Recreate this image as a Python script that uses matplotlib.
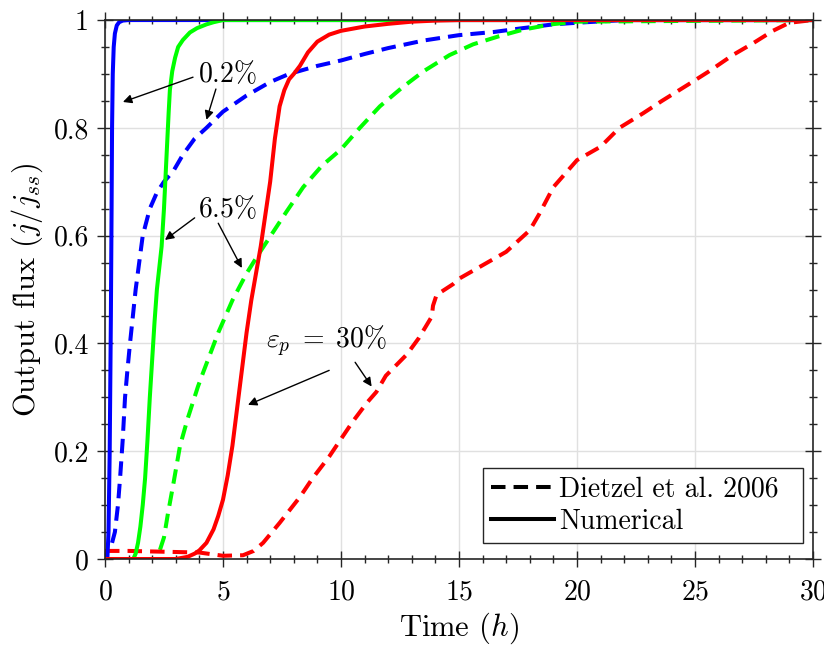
import matplotlib
matplotlib.use('Agg')
import matplotlib.pyplot as plt
from matplotlib.ticker import MultipleLocator

plt.rcParams['font.family'] = 'cmr10'
plt.rcParams['mathtext.fontset'] = 'cm'
plt.rcParams['axes.formatter.use_mathtext'] = True

# numerical curves (solid)
t_num_02 = [0, 0.1, 0.15, 0.2, 0.25, 0.28, 0.3, 0.33, 0.37, 0.42, 0.5, 0.6, 0.75, 1.0, 30]
y_num_02 = [0, 0.0, 0.05, 0.2, 0.45, 0.65, 0.8, 0.9, 0.95, 0.975, 0.99, 0.996, 0.999, 1.0, 1.0]

t_num_65 = [0, 1.2, 1.3, 1.4, 1.5, 1.6, 1.7, 1.8, 1.9, 2.0, 2.1, 2.2, 2.3, 2.4, 2.5, 2.6, 2.7, 2.75,
            2.85, 2.97, 3.1, 3.3, 3.6, 3.9, 4.3, 4.6, 5.0, 30]
y_num_65 = [0, 0, 0.01, 0.03, 0.06, 0.1, 0.15, 0.22, 0.3, 0.37, 0.44, 0.5, 0.54, 0.58, 0.65, 0.74, 0.83, 0.87,
            0.905, 0.93, 0.95, 0.963, 0.977, 0.985, 0.992, 0.996, 1.0, 1.0]

t_num_30 = [0, 3.0, 3.5, 3.8, 4.0, 4.3, 4.6, 4.8, 5.0, 5.2, 5.4, 5.6, 5.8, 6.0, 6.2, 6.4, 6.6, 6.8, 7.0,
            7.2, 7.4, 7.6, 7.8, 8.0, 8.26, 8.6, 9.0, 9.5, 10.0, 10.5, 11.0, 12.0, 13.0, 14.0, 15.0, 30]
y_num_30 = [0, 0, 0.004, 0.01, 0.016, 0.03, 0.055, 0.08, 0.11, 0.155, 0.21, 0.28, 0.35, 0.42, 0.48, 0.53, 0.58, 0.64, 0.70,
            0.78, 0.84, 0.87, 0.89, 0.9, 0.915, 0.94, 0.96, 0.973, 0.98, 0.984, 0.988, 0.993, 0.997, 0.999, 1.0, 1.0]

# Dietzel et al. 2006 (dashed)
t_dz_02 = [0.3, 0.42, 0.55, 0.64, 0.75, 0.85, 0.95, 1.06, 1.3, 1.6, 1.9, 2.2, 2.5, 2.9, 3.3, 3.8, 4.3, 5.0,
           6.0, 7.0, 7.8, 9.0, 10.0, 11.0, 12.0, 13.5, 15.0, 16.5, 17.7, 19.0, 20.0, 22.0, 30]
y_dz_02 = [0.03, 0.05, 0.1, 0.15, 0.22, 0.3, 0.35, 0.4, 0.5, 0.6, 0.65, 0.68, 0.7, 0.72, 0.75, 0.78, 0.8, 0.83,
           0.86, 0.885, 0.9, 0.915, 0.925, 0.937, 0.948, 0.962, 0.972, 0.978, 0.985, 0.992, 0.995, 1.0, 1.0]

t_dz_65 = [2.33, 2.5, 2.67, 2.9, 3.18, 3.5, 3.94, 4.15, 4.8, 5.4, 6.0, 6.5, 7.1, 7.7, 8.4, 9.2, 10.0, 10.8,
           11.65, 12.6, 13.5, 14.6, 15.6, 16.7, 17.7, 18.9, 20.0, 30]
y_dz_65 = [0.017, 0.04, 0.085, 0.14, 0.21, 0.26, 0.32, 0.345, 0.42, 0.48, 0.53, 0.565, 0.605, 0.645, 0.69, 0.73, 0.76, 0.8,
           0.84, 0.875, 0.905, 0.935, 0.955, 0.97, 0.982, 0.992, 0.997, 1.0]

t_dz_30 = [0, 1.0, 2.0, 3.0, 4.0, 5.0, 5.85, 6.3, 6.7, 7.4, 8.26, 8.8, 9.5, 9.96, 10.5, 11.1, 11.5, 11.9, 12.8,
           13.3, 13.85, 13.9, 14.05, 14.75, 15.0, 16.0, 17.0, 18.0, 18.4, 19.0, 20.0, 21.0, 21.8, 22.8, 23.6,
           24.7, 25.6, 26.6, 27.5, 28.3, 29.0, 30.0]
y_dz_30 = [0.015, 0.015, 0.014, 0.013, 0.012, 0.006, 0.007, 0.015, 0.03, 0.067, 0.115, 0.15, 0.19, 0.22, 0.255, 0.29, 0.31, 0.34, 0.38,
           0.41, 0.45, 0.47, 0.49, 0.51, 0.52, 0.545, 0.57, 0.61, 0.64, 0.69, 0.74, 0.765, 0.80, 0.827, 0.85,
           0.88, 0.905, 0.935, 0.958, 0.98, 0.995, 1.0]

y_tick_vals = [0, 0.2, 0.4, 0.6, 0.8, 1]
y_tick_labels = ['0', '0.2', '0.4', '0.6', '0.8', '1']
x_tick_vals = [0, 5, 10, 15, 20, 25, 30]

blue = '#0000ff'
green = '#00ff00'
red = '#ff0000'
lw = 2.9
dash = (3.6, 2.0)

fig = plt.figure(figsize=(8.24, 6.47), dpi=100)
ax = fig.add_axes([0.1274, 0.136, 0.8592, 0.833])

ax.plot(t_dz_02, y_dz_02, color=blue, lw=lw, dashes=dash)
ax.plot(t_dz_65, y_dz_65, color=green, lw=lw, dashes=dash)
ax.plot(t_dz_30, y_dz_30, color=red, lw=lw, dashes=dash)
ax.plot(t_num_02, y_num_02, color=blue, lw=lw)
ax.plot(t_num_65, y_num_65, color=green, lw=lw)
ax.plot(t_num_30, y_num_30, color=red, lw=lw)

# legend proxies
ax.plot([], [], color='k', lw=lw, dashes=dash, label='Dietzel et al. 2006')
ax.plot([], [], color='k', lw=lw, label='Numerical')
leg = ax.legend(loc='lower left', fontsize=20, frameon=True, fancybox=False,
                edgecolor='#262626', framealpha=1, handlelength=2.25,
                handletextpad=0.2, borderpad=0.3, labelspacing=0.2,
                borderaxespad=0, mode='expand',
                bbox_to_anchor=(0.534, 0.03, 0.452, 0.135))
leg.get_frame().set_linewidth(1.0)

arrow = dict(arrowstyle='-|>', color='k', lw=1.0, mutation_scale=13, shrinkA=0, shrinkB=0)
fs = 20
ax.text(5.2, 0.90, r'$0.2\%$', fontsize=fs, ha='center', va='center')
ax.annotate('', xy=(0.76, 0.848), xytext=(3.73, 0.894), arrowprops=arrow)
ax.annotate('', xy=(4.3, 0.815), xytext=(4.7, 0.872), arrowprops=arrow)

ax.text(5.2, 0.65, r'$6.5\%$', fontsize=fs, ha='center', va='center')
ax.annotate('', xy=(2.54, 0.592), xytext=(3.8, 0.633), arrowprops=arrow)
ax.annotate('', xy=(5.8, 0.54), xytext=(4.8, 0.623), arrowprops=arrow)

ax.text(9.4, 0.404, r'$\varepsilon_p\;=\;30\%$', fontsize=fs, ha='center', va='center')
ax.annotate('', xy=(6.06, 0.286), xytext=(9.5, 0.35), arrowprops=arrow)
ax.annotate('', xy=(11.3, 0.32), xytext=(10.6, 0.365), arrowprops=arrow)

ax.set_xlim(0, 30)
ax.set_ylim(0, 1)
ax.set_xticks(x_tick_vals)
ax.set_yticks(y_tick_vals)
ax.set_yticklabels(y_tick_labels)
ax.xaxis.set_minor_locator(MultipleLocator(1))
ax.yaxis.set_minor_locator(MultipleLocator(0.05))
ax.tick_params(which='both', direction='inout', top=True, right=True, labelsize=20, width=1.0, color='#262626')
ax.tick_params(which='major', length=11)
ax.tick_params(axis='x', which='major', pad=9)
ax.tick_params(axis='y', which='major', pad=6)
ax.tick_params(which='minor', length=6)
ax.grid(True, which='major', color='#e0e0e0', lw=1.0)
ax.set_axisbelow(True)
for s in ax.spines.values():
    s.set_linewidth(1.2)
    s.set_color('#262626')

ax.set_xlabel(r'Time $(h)$', fontsize=22, labelpad=4)
ax.set_ylabel(r'Output flux $(j/j_{ss})$', fontsize=22, labelpad=6)

fig.savefig('out.png', dpi=100)
